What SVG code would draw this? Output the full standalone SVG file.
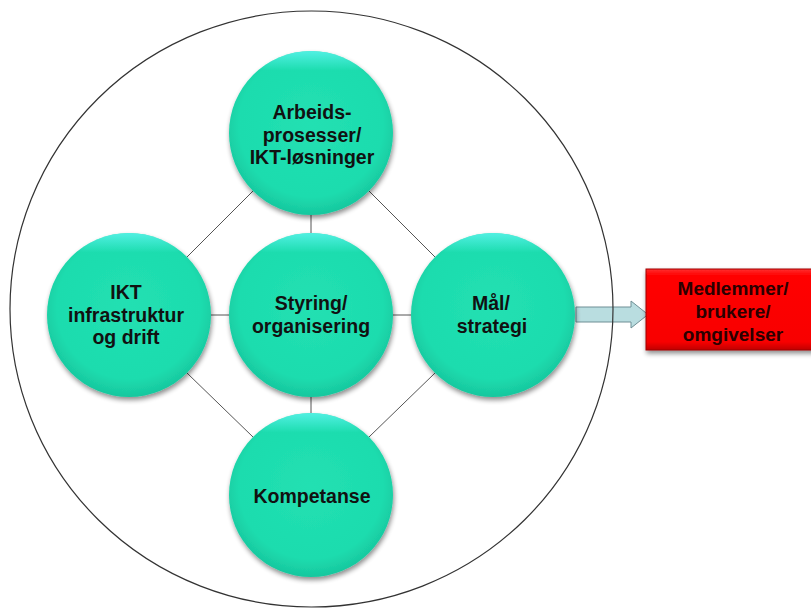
<svg xmlns="http://www.w3.org/2000/svg" width="811" height="610" viewBox="0 0 811 610">
<defs>
<radialGradient id="gTeal" cx="50%" cy="45%" r="55%">
<stop offset="0" stop-color="#22e0b2"/>
<stop offset="0.8" stop-color="#1ddcae"/>
<stop offset="1" stop-color="#17c79e"/>
</radialGradient>
<linearGradient id="gHi" x1="0" y1="0" x2="0" y2="1">
<stop offset="0" stop-color="#5ff5f0" stop-opacity="0.8"/>
<stop offset="0.12" stop-color="#5ff5f0" stop-opacity="0"/>
<stop offset="1" stop-color="#5ff5f0" stop-opacity="0"/>
</linearGradient>
<linearGradient id="gRed" x1="0" y1="0" x2="0" y2="1">
<stop offset="0" stop-color="#ff3030"/>
<stop offset="0.08" stop-color="#ff0000"/>
<stop offset="0.9" stop-color="#f80000"/>
<stop offset="1" stop-color="#c00000"/>
</linearGradient>
<filter id="sh" x="-20%" y="-20%" width="140%" height="140%">
<feGaussianBlur in="SourceAlpha" stdDeviation="2.5"/>
<feOffset dx="1" dy="3" result="b"/>
<feComponentTransfer><feFuncA type="linear" slope="0.45"/></feComponentTransfer>
<feMerge><feMergeNode/><feMergeNode in="SourceGraphic"/></feMerge>
</filter>
</defs>
<style>
.c{fill:url(#gTeal);filter:url(#sh)}
.h{fill:url(#gHi)}
.t{font-family:"Liberation Sans",Arial,sans-serif;font-weight:bold;font-size:19.5px;fill:#111;text-anchor:middle}
.tr{font-family:"Liberation Sans",Arial,sans-serif;font-weight:bold;font-size:19px;fill:#2a0000;text-anchor:middle}
.ln{stroke:#555;stroke-width:1;fill:none}
</style>
<rect width="811" height="610" fill="#fff"/>
<g id="connectors">
<line class="ln" x1="253" y1="191" x2="187" y2="257"/>
<line class="ln" x1="369" y1="191" x2="435" y2="257"/>
<line class="ln" x1="187" y1="373" x2="253" y2="437"/>
<line class="ln" x1="435" y1="373" x2="369" y2="437"/>
<line class="ln" x1="311" y1="215" x2="311" y2="233"/>
<line class="ln" x1="311" y1="397" x2="311" y2="413"/>
<line class="ln" x1="211" y1="315" x2="229" y2="315"/>
<line class="ln" x1="393" y1="315" x2="411" y2="315"/>
<polygon points="576,307 631,307 631,301 648,314.5 631,328 631,322 576,322" fill="#b9dde0" stroke="#6f8f95" stroke-width="1"/>
</g>
<g id="outer">
<ellipse cx="311.5" cy="309" rx="301.5" ry="298" fill="none" stroke="#333" stroke-width="1.2"/>
</g>
<g id="node-arbeids">
<circle class="c" cx="311" cy="133" r="82"/>
<circle class="h" cx="311" cy="133" r="82"/>
<text class="t" x="312" y="119">Arbeids-</text>
<text class="t" x="312" y="141.5">prosesser/</text>
<text class="t" x="312" y="164">IKT-løsninger</text>
</g>
<g id="node-ikt">
<circle class="c" cx="129" cy="315" r="82"/>
<circle class="h" cx="129" cy="315" r="82"/>
<text class="t" x="126" y="299">IKT</text>
<text class="t" x="126" y="321.5">infrastruktur</text>
<text class="t" x="126" y="344">og drift</text>
</g>
<g id="node-styring">
<circle class="c" cx="311" cy="315" r="82"/>
<circle class="h" cx="311" cy="315" r="82"/>
<text class="t" x="311" y="310">Styring/</text>
<text class="t" x="311" y="333">organisering</text>
</g>
<g id="node-maal">
<circle class="c" cx="493" cy="315" r="82"/>
<circle class="h" cx="493" cy="315" r="82"/>
<text class="t" x="491" y="310">Mål/</text>
<text class="t" x="492" y="333">strategi</text>
</g>
<g id="node-kompetanse">
<circle class="c" cx="311" cy="495" r="82"/>
<circle class="h" cx="311" cy="495" r="82"/>
<text class="t" x="312" y="503">Kompetanse</text>
</g>
<g id="node-medlemmer">
<rect x="646" y="269" width="170" height="81" fill="url(#gRed)" stroke="#a00000" stroke-width="1" filter="url(#sh)"/>
<text class="tr" x="733" y="295">Medlemmer/</text>
<text class="tr" x="733" y="318">brukere/</text>
<text class="tr" x="733" y="341">omgivelser</text>
</g>
</svg>
